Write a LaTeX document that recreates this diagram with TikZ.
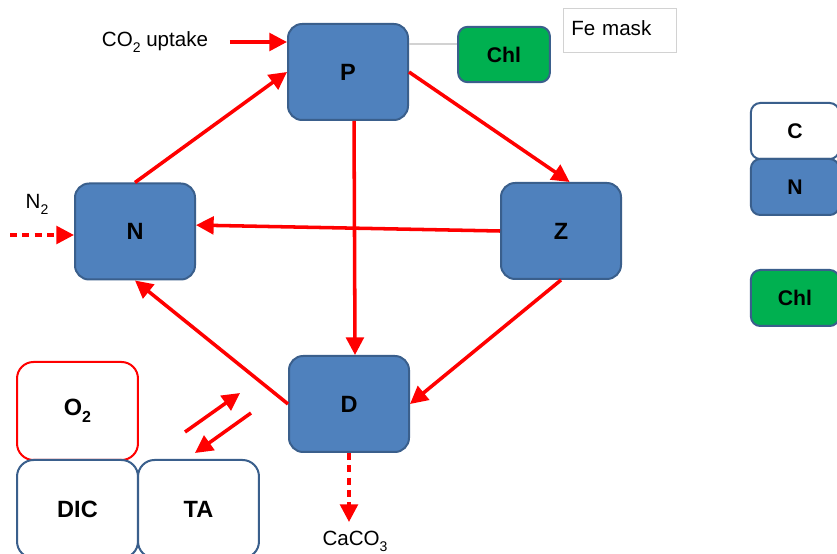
\documentclass[tikz,border=0pt]{standalone}
\usepackage{fontspec}
\setmainfont{Liberation Sans}
\usetikzlibrary{arrows.meta,positioning}

\definecolor{pool}{HTML}{4F81BD}
\definecolor{poolline}{HTML}{3A5F8C}
\definecolor{chlgreen}{HTML}{00B050}
\definecolor{arrred}{HTML}{FF0000}

\newcommand\lowsub[1]{\raisebox{-0.55ex}{\scalebox{0.68}{#1}}}

\tikzset{
  pbox/.style={draw=poolline,fill=pool,line width=1.7pt,rounded corners=12pt,
    minimum width=102pt,minimum height=81.6pt,font=\fontsize{20}{24}\selectfont\bfseries},
  chlbox/.style={draw=poolline,fill=chlgreen,line width=1.7pt,rounded corners=8pt,
    minimum width=78pt,minimum height=47pt,font=\fontsize{18}{22}\selectfont\bfseries},
  keybox/.style={draw=poolline,line width=1.7pt,rounded corners=8pt,
    minimum width=75pt,minimum height=47.6pt,font=\fontsize{18}{22}\selectfont\bfseries},
  chembox/.style={draw=poolline,fill=white,line width=1.7pt,rounded corners=14pt,
    minimum width=102.8pt,minimum height=83.3pt,font=\fontsize{20}{24}\selectfont\bfseries},
  lbl/.style={font=\fontsize{17.5}{21}\selectfont},
  arr/.style={draw=arrred,line width=3pt,-{Triangle[length=15pt,width=15pt]}},
  darr/.style={arr,dash pattern=on 6pt off 4.5pt},
}

\begin{document}
\begin{tikzpicture}[x=0.85pt,y=-0.85pt]
  \clip (0,0) rectangle (837,554);
  \fill[white] (0,0) rectangle (837,554);

  % plankton pools
  \node[pbox] at (348,72) (P) {P};
  \node[pbox] at (135,231.5) (N) {N};
  \node[pbox] at (561,231) (Z) {Z};
  \node[pbox] at (349,404) (D) {D};

  % chlorophyll and mask
  \node[chlbox] at (504,54.5) (chl) {Chl};
  \node[draw=gray!35,line width=0.8pt,minimum width=96pt,minimum height=37.4pt,
    text width=82pt,inner xsep=7pt,align=left,lbl] at (619.5,30) (fe) {\raisebox{3pt}{Fe mask}};
  \draw[gray!35,line width=1pt] (P.east |- 0,44) -- (chl.west |- 0,44);

  % key on the right
  \node[keybox,fill=white] at (795,131) (keyC) {C};
  \node[keybox,fill=pool] at (795,187) (keyN) {N};
  \node[keybox,fill=chlgreen] at (795,298) (keyChl) {Chl};

  % carbonate chemistry
  \node[chembox,draw=arrred] at (77.5,411) (O2) {O\lowsub{2}};
  \node[chembox] at (77.5,509) (DIC) {DIC};
  \node[chembox] at (198.5,509) (TA) {TA};

  % labels
  \node[lbl] at (155,42) (co2) {CO\lowsub{2} uptake};
  \node[lbl] at (37,204) (n2) {N\lowsub{2}};
  \node[lbl] at (355,541) (caco) {CaCO\lowsub{3}};
  \coordinate (n2in) at (10,235);
  \coordinate (upA) at (185,432);
  \coordinate (upB) at (240,393);
  \coordinate (dnA) at (251,413);
  \coordinate (dnB) at (195,453);

  % fluxes
  \draw[arr] ([xshift=15pt]co2.east) -- (co2 -| P.west);
  \draw[darr] (n2in) -- (n2in -| N.west);
  \draw[arr] (N.north) -- (P.west);
  \draw[arr] (P.east) -- (Z.80);
  \draw[arr] (P.-83) -- (D.83);
  \draw[arr] (Z.west) -- (N.6);
  \draw[arr] (Z.south) -- (D.east);
  \draw[arr] (D.west) -- (N.south);
  \draw[darr] (D.south) -- (D.south |- 0,522);
  \draw[arr] (upA) -- (upB);
  \draw[arr] (dnA) -- (dnB);
\end{tikzpicture}
\end{document}
